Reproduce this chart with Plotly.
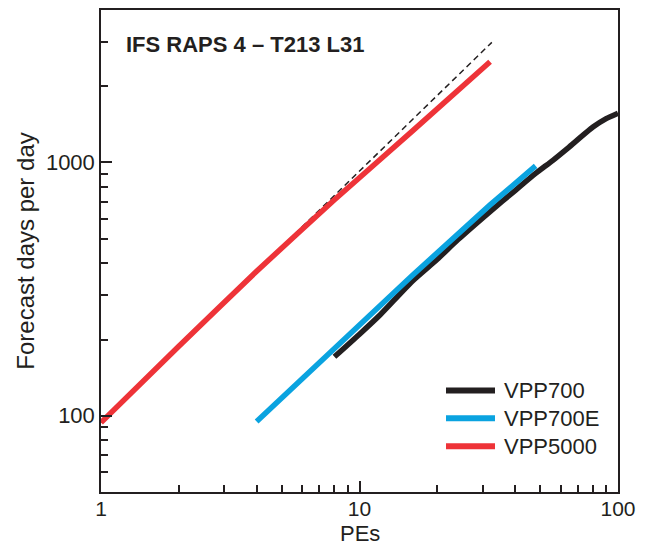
import plotly.graph_objects as go

# ---- data ----
pes_vpp5000 = [1, 2, 4, 8, 16, 32]
fdpd_vpp5000 = [94, 188, 372, 712, 1330, 2500]

pes_vpp700e = [4, 8, 16, 32, 48]
fdpd_vpp700e = [95, 186, 358, 680, 970]

pes_vpp700 = [8, 10, 12, 16, 20, 24, 32, 40, 48, 56, 64, 80, 90, 100]
fdpd_vpp700 = [171, 210, 250, 340, 415, 495, 640, 775, 905, 1020, 1140, 1380, 1490, 1565]

pes_ideal = [1, 32.5]
fdpd_ideal = [94, 2980]

series_names = ["VPP700", "VPP700E", "VPP5000"]
series_colors = ["#231f20", "#0aa3e0", "#ee3338"]

x_major = [1, 10, 100]
x_major_text = ["1", "10", "100"]
x_minor = [2, 3, 4, 5, 6, 7, 8, 9, 20, 30, 40, 50, 60, 70, 80, 90]
y_major = [100, 1000]
y_major_text = ["100", "1000"]
y_minor = [60, 70, 80, 90, 200, 300, 400, 500, 600, 700, 800, 900, 2000, 3000]

title_text = "IFS RAPS 4 \u2013 T213 L31"
x_title = "PEs"
y_title = "Forecast days per day"

FONT = "Liberation Sans, Arial, sans-serif"
AXC = "#231f20"

fig = go.Figure()

fig.add_trace(go.Scatter(x=pes_ideal, y=fdpd_ideal, mode="lines",
                         line=dict(color="#231f20", width=1.5, dash="6px,4px"),
                         showlegend=False, hoverinfo="skip"))
fig.add_trace(go.Scatter(x=pes_vpp700, y=fdpd_vpp700, mode="lines", name=series_names[0],
                         line=dict(color=series_colors[0], width=5.5, shape="spline", smoothing=0.6),
                         showlegend=False))
fig.add_trace(go.Scatter(x=pes_vpp700e, y=fdpd_vpp700e, mode="lines", name=series_names[1],
                         line=dict(color=series_colors[1], width=5.5), showlegend=False))
fig.add_trace(go.Scatter(x=pes_vpp5000, y=fdpd_vpp5000, mode="lines", name=series_names[2],
                         line=dict(color=series_colors[2], width=5.5, shape="spline", smoothing=0.5),
                         showlegend=False))

# page has an 8px body margin; positions below are in page pixels
OFF = 8
L, R, T, B = 101, 618, 8, 492
W = R - L
H = B - T
FIG_W, FIG_H = 649 - OFF, 547 - OFF

def px_x(p):
    return (p - L) / W
def px_y(p):
    return (B - p) / H

leg_rows = [390, 418, 446]
for name, col, yy in zip(series_names, series_colors, leg_rows):
    fig.add_shape(type="line", xref="paper", yref="paper",
                  x0=px_x(446), x1=px_x(495), y0=px_y(yy), y1=px_y(yy),
                  line=dict(color=col, width=6))
    fig.add_annotation(xref="paper", yref="paper", x=px_x(502), y=px_y(yy),
                       text=name, showarrow=False, xanchor="left", yanchor="middle",
                       font=dict(family=FONT, size=22, color="#231f20"))

fig.add_annotation(xref="paper", yref="paper", x=px_x(124), y=px_y(43),
                   text="<b>" + title_text + "</b>", showarrow=False,
                   xanchor="left", yanchor="middle",
                   font=dict(family=FONT, size=22, color="#231f20"))

fig.add_annotation(xref="paper", yref="paper", x=0.5, y=px_y(534),
                   text=x_title, showarrow=False, xanchor="center", yanchor="middle",
                   font=dict(family=FONT, size=22, color="#231f20"))

fig.update_xaxes(type="log", range=[0, 2],
                 tickvals=x_major, ticktext=x_major_text,
                 ticks="inside", ticklen=11, tickwidth=1.5, tickcolor=AXC,
                 minor=dict(tickvals=x_minor, ticks="inside", ticklen=7, tickwidth=1.5, tickcolor=AXC),
                 showline=True, linecolor=AXC, linewidth=1.5, mirror=True,
                 showgrid=False, zeroline=False, ticklabelstandoff=-3,
                 tickfont=dict(family=FONT, size=21, color="#231f20"))
fig.update_yaxes(type="log", range=[1.699, 3.602],
                 tickvals=y_major, ticktext=y_major_text,
                 ticks="inside", ticklen=11, tickwidth=1.5, tickcolor=AXC,
                 minor=dict(tickvals=y_minor, ticks="inside", ticklen=7, tickwidth=1.5, tickcolor=AXC),
                 showline=True, linecolor=AXC, linewidth=1.5, mirror=True,
                 showgrid=False, zeroline=False,
                 tickfont=dict(family=FONT, size=22, color="#231f20"),
                 title=dict(text=y_title, font=dict(family=FONT, size=24, color="#231f20"), standoff=4))

fig.update_layout(width=FIG_W, height=FIG_H,
                  margin=dict(l=L - OFF, r=FIG_W - (R - OFF), t=T - OFF, b=FIG_H - (B - OFF), pad=0),
                  paper_bgcolor="white", plot_bgcolor="white",
                  showlegend=False)

fig.write_html("out.html")
